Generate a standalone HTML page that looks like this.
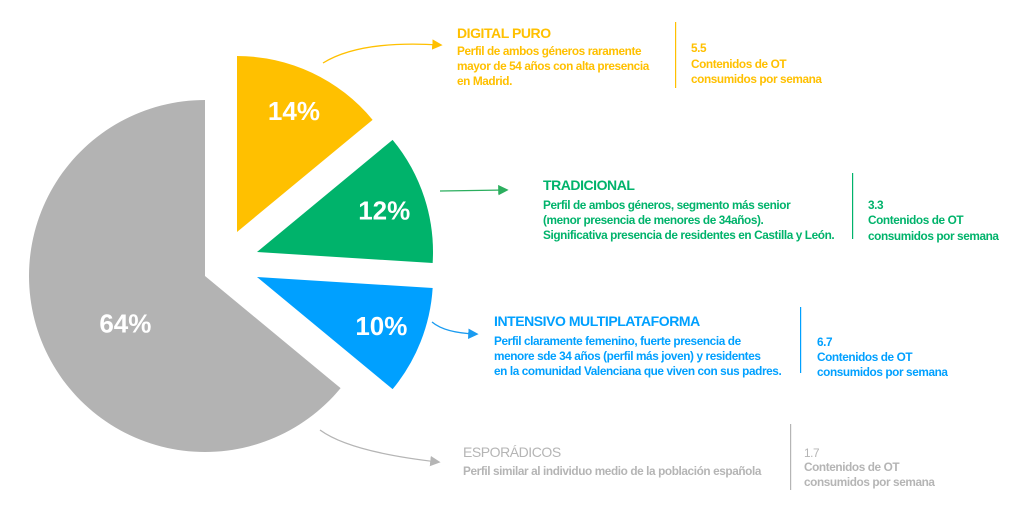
<!DOCTYPE html>
<html><head><meta charset="utf-8"><style>
html,body{margin:0;padding:0;background:#fff;}
svg{display:block;font-family:"Liberation Sans",sans-serif;}
.h{font-weight:bold;font-size:14px;letter-spacing:-0.45px;}
.b{font-weight:bold;font-size:11.8px;letter-spacing:-0.4px;}
.p{font-weight:bold;font-size:26px;fill:#fff;}
</style></head><body>
<svg id="chart" width="1024" height="512" viewBox="0 0 1024 512">
<defs>
<marker id="ay" markerWidth="8" markerHeight="8" refX="6" refY="4" orient="auto"><path d="M0,0L8,4L0,8z" fill="#FFC000"/></marker>
<marker id="ag" markerWidth="8" markerHeight="8" refX="6" refY="4" orient="auto"><path d="M0,0L8,4L0,8z" fill="#2BAE5E"/></marker>
<marker id="ab" markerWidth="8" markerHeight="8" refX="6" refY="4" orient="auto"><path d="M0,0L8,4L0,8z" fill="#1A9BF0"/></marker>
<marker id="aq" markerWidth="8" markerHeight="8" refX="6" refY="4" orient="auto"><path d="M0,0L8,4L0,8z" fill="#b5b5b5"/></marker>
</defs>
<g id="slices"></g>
<path d="M323,63 Q360,40 440,45" fill="none" stroke="#FFC000" stroke-width="1.3" marker-end="url(#ay)"/>
<path d="M440,191 L506,190" fill="none" stroke="#2BAE5E" stroke-width="1.3" marker-end="url(#ag)"/>
<path d="M432,322 Q445,333 476,334" fill="none" stroke="#1A9BF0" stroke-width="1.3" marker-end="url(#ab)"/>
<path d="M320,430 Q350,452 438,462" fill="none" stroke="#b5b5b5" stroke-width="1.3" marker-end="url(#aq)"/>

<g fill="#FFC000">
<text class="h" x="457" y="38">DIGITAL PURO</text>
<text class="b" x="457" y="55">Perfil de ambos géneros raramente</text>
<text class="b" x="457" y="70">mayor de 54 años con alta presencia</text>
<text class="b" x="457" y="85">en Madrid.</text>
<rect x="675" y="22" width="1.2" height="66"/>
<text class="b" x="691" y="52">5.5</text>
<text class="b" x="691" y="68">Contenidos de OT</text>
<text class="b" x="691" y="83">consumidos por semana</text>
</g>
<g fill="#00B36B">
<text class="h" x="543" y="190">TRADICIONAL</text>
<text class="b" x="543" y="209">Perfil de ambos géneros, segmento más senior</text>
<text class="b" x="543" y="224">(menor presencia de menores de 34años).</text>
<text class="b" x="543" y="239">Significativa presencia de residentes en Castilla y León.</text>
<rect x="852" y="173" width="1.2" height="66"/>
<text class="b" x="868" y="209">3.3</text>
<text class="b" x="868" y="224">Contenidos de OT</text>
<text class="b" x="868" y="240">consumidos por semana</text>
</g>
<g fill="#00A0FF">
<text class="h" x="494" y="326">INTENSIVO MULTIPLATAFORMA</text>
<text class="b" x="494" y="345">Perfil claramente femenino, fuerte presencia de</text>
<text class="b" x="494" y="360">menore sde 34 años (perfil más joven) y residentes</text>
<text class="b" x="494" y="375">en la comunidad Valenciana que viven con sus padres.</text>
<rect x="800" y="307" width="1.2" height="66"/>
<text class="b" x="817" y="346">6.7</text>
<text class="b" x="817" y="361">Contenidos de OT</text>
<text class="b" x="817" y="376">consumidos por semana</text>
</g>
<g fill="#b5b5b5">
<text class="h" x="463" y="457" style="font-weight:normal">ESPORÁDICOS</text>
<text class="b" x="463" y="475">Perfil similar al individuo medio de la población española</text>
<rect x="790" y="424" width="1.2" height="66"/>
<text class="b" x="804" y="457" style="font-weight:normal">1.7</text>
<text class="b" x="804" y="471">Contenidos de OT</text>
<text class="b" x="804" y="486">consumidos por semana</text>
</g>
</svg>
<script>
const categories = ["Digital puro", "Tradicional", "Intensivo multiplataforma", "Esporádicos"];
const shares = [14, 12, 10, 64];
const shareLabels = ["14%", "12%", "10%", "64%"];
const colors = ["#FFC000", "#00B36B", "#00A0FF", "#b3b3b3"];
const vertices = [[237,232],[257,252],[257,277],[205,276]];
const R = 176;
const g = document.getElementById('slices');
const NS = 'http://www.w3.org/2000/svg';
const total = shares.reduce((a,b)=>a+b,0);
function pt(c, deg, r){ const a = deg*Math.PI/180; return [c[0]+r*Math.sin(a), c[1]-r*Math.cos(a)]; }
let acc = 0;
shares.forEach((v,i)=>{
  const a0 = acc/total*360, a1 = (acc+v)/total*360; acc += v;
  const c = vertices[i];
  const p0 = pt(c,a0,R), p1 = pt(c,a1,R);
  const large = (a1-a0) > 180 ? 1 : 0;
  const path = document.createElementNS(NS,'path');
  path.setAttribute('d', `M${c[0]},${c[1]} L${p0[0]},${p0[1]} A${R},${R} 0 ${large} 1 ${p1[0]},${p1[1]} Z`);
  path.setAttribute('fill', colors[i]);
  
  
  g.appendChild(path);
  const mid = (a0+a1)/2;
  const lr = (a1-a0) > 180 ? R*0.5 : R*0.76;
  const lp = pt(c, mid, lr);
  const t = document.createElementNS(NS,'text');
  t.setAttribute('x', lp[0]); t.setAttribute('y', lp[1]+9 + ((a1-a0) > 180 ? 10 : 0));
  t.setAttribute('text-anchor','middle');
  t.setAttribute('class','p');
  t.textContent = shareLabels[i];
  
  
  g.appendChild(t);
});
</script>
</body></html>
